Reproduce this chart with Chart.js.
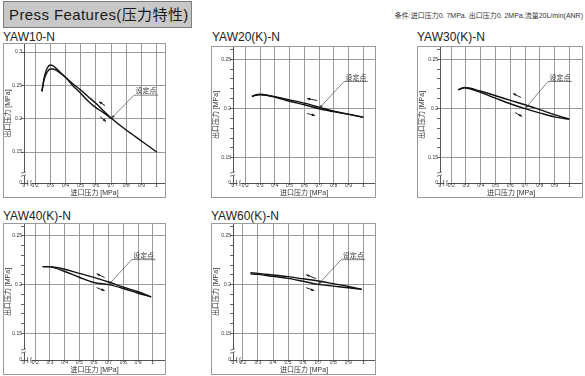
<!DOCTYPE html>
<html><head><meta charset="utf-8">
<script src="https://cdn.jsdelivr.net/npm/chart.js@4.4.0/dist/chart.umd.min.js"></script>
<style>
html,body{margin:0;padding:0;background:#fff;}
body{width:585px;height:376px;position:relative;overflow:hidden;font-family:"Liberation Sans","Noto Sans CJK SC",Arial,sans-serif;}
.hdr{position:absolute;left:3px;top:1px;width:189px;height:27px;box-sizing:border-box;background:#c8c8c8;border:1px solid #7c7c7c;font-size:15px;line-height:25px;padding-left:5px;color:#1a1a1a;letter-spacing:0.4px;white-space:nowrap;}
.cond{position:absolute;right:2px;top:11px;font-size:7px;line-height:9px;color:#333;white-space:nowrap;}
.ttl{position:absolute;font-size:12px;line-height:12px;color:#222;white-space:nowrap;}
.box{position:absolute;box-sizing:border-box;border:1px solid #9a9a9a;}
canvas{position:absolute;}
</style></head><body>
<div class="hdr">Press Features(压力特性)</div>
<div class="cond">条件:进口压力0. 7MPa. 出口压力0. 2MPa,流量20L/min(ANR)</div>
<script>
// ---------- data ----------
const panelNames = ['YAW10-N','YAW20(K)-N','YAW30(K)-N','YAW40(K)-N','YAW60(K)-N'];
const xTitle = '进口压力 [MPa]';
const yTitle = '出口压力 [MPa]';
const setLabel = '设定点';
const setPoint = [0.7, 0.2];
const zeroLabel = '0';

const xTickVals = [0.2,0.3,0.4,0.5,0.6,0.7,0.8,0.9,1.0];
const xTickLabels = ['0.2','0.3','0.4','0.5','0.6','0.7','0.8','0.9','1'];
const y1TickVals = [0.15,0.2,0.25,0.3];
const y1TickLabels = ['0.15','0.2','0.25','0.3'];
const yTickVals = [0.15,0.16,0.17,0.18,0.19,0.2,0.21,0.22,0.23,0.24,0.25,0.26];
const yTickLabels = ['0.15','','','','','0.2','','','','','0.25',''];

// YAW10-N
const p1UpX = [0.245,0.26,0.28,0.30,0.32,0.35,0.40,0.45,0.50,0.55,0.60,0.65,0.70,0.80,0.90,1.00];
const p1UpY = [0.241,0.262,0.276,0.2805,0.279,0.273,0.262,0.252,0.243,0.233,0.223,0.212,0.201,0.183,0.1665,0.150];
const p1DnX = [0.245,0.26,0.28,0.30,0.32,0.35,0.40,0.45,0.50,0.55,0.60,0.65,0.70];
const p1DnY = [0.241,0.259,0.270,0.2745,0.2745,0.271,0.262,0.249,0.238,0.226,0.2165,0.209,0.2005];
// YAW20(K)-N
const p2UpX = [0.245,0.27,0.30,0.35,0.40,0.50,0.60,0.70,0.80,0.90,1.00];
const p2UpY = [0.2122,0.2138,0.2145,0.2136,0.2120,0.2088,0.2054,0.2014,0.1972,0.1943,0.1912];
const p2DnX = [0.245,0.27,0.30,0.35,0.40,0.50,0.60,0.70,0.80,0.90,1.00];
const p2DnY = [0.2122,0.2135,0.2140,0.2132,0.2117,0.2074,0.2038,0.1998,0.1968,0.1940,0.1910];
// YAW30(K)-N
const p3UpX = [0.248,0.27,0.29,0.32,0.40,0.50,0.60,0.70,0.80,0.90,1.00];
const p3UpY = [0.2189,0.2205,0.2213,0.2208,0.2175,0.2130,0.2083,0.2038,0.1988,0.1937,0.1892];
const p3DnX = [0.248,0.27,0.29,0.32,0.40,0.50,0.60,0.70,0.80,0.90,1.00];
const p3DnY = [0.2189,0.2203,0.2210,0.2203,0.2163,0.2105,0.2048,0.1998,0.1955,0.1915,0.1892];
// YAW40(K)-N
const p4UpX = [0.25,0.30,0.40,0.50,0.60,0.70,0.80,0.90,0.99];
const p4UpY = [0.2185,0.2185,0.2158,0.2116,0.2075,0.2027,0.1975,0.1927,0.1875];
const p4DnX = [0.25,0.30,0.40,0.50,0.60,0.70,0.80,0.90,0.99];
const p4DnY = [0.2185,0.2183,0.2135,0.2076,0.2022,0.2000,0.1960,0.1912,0.1875];
// YAW60(K)-N
const p5UpX = [0.25,0.30,0.40,0.50,0.60,0.70,0.80,0.90,0.99];
const p5UpY = [0.2123,0.2116,0.2099,0.2082,0.2060,0.2038,0.2010,0.1981,0.1952];
const p5DnX = [0.25,0.30,0.40,0.50,0.60,0.70,0.80,0.90,0.99];
const p5DnY = [0.2112,0.2105,0.2085,0.2065,0.2035,0.2003,0.1985,0.1968,0.1952];

// ---------- layout ----------
const FONT = '"Liberation Sans","Noto Sans CJK SC",Arial,sans-serif';
const panels = [
  {name:panelNames[0], box:[3,43,166,198], plot:[24,183], title:[3,31], x:[0.127,1.055], y:[0.1035,0.312],
   yv:y1TickVals, yl:y1TickLabels, up:[p1UpX,p1UpY], dn:[p1DnX,p1DnY],
   note:[23,-23.5], aU:[-12,-17,-6,-13], aL:[-11,-2,-5,3]},
  {name:panelNames[1], box:[211,46,376,198], plot:[233,183], title:[212,31], x:[0.117,1.079], y:[0.1243,0.2625],
   yv:yTickVals, yl:yTickLabels, up:[p2UpX,p2UpY], dn:[p2DnX,p2DnY],
   note:[25,-27], aU:[-12,-10,-2,-8], aL:[-12,5,-4,7]},
  {name:panelNames[2], box:[417,46,583,198], plot:[440,183], title:[417,31], x:[0.124,1.086], y:[0.1243,0.2625],
   yv:yTickVals, yl:yTickLabels, up:[p3UpX,p3UpY], dn:[p3DnX,p3DnY],
   note:[23,-27], aU:[-12,-15,-4,-11], aL:[-10,4,-3,8]},
  {name:panelNames[3], box:[3,223,166,375], plot:[24,360], title:[3,210], x:[0.123,1.084], y:[0.1226,0.2623],
   yv:yTickVals, yl:yTickLabels, up:[p4UpX,p4UpY], dn:[p4DnX,p4DnY],
   note:[23,-25], aU:[-12,-11,-4,-7], aL:[-12,3,-4,6]},
  {name:panelNames[4], box:[211,223,376,375], plot:[233,360], title:[211,210], x:[0.134,1.078], y:[0.1226,0.2623],
   yv:yTickVals, yl:yTickLabels, up:[p5UpX,p5UpY], dn:[p5DnX,p5DnY],
   note:[23,-25], aU:[-12,-10,-2,-6], aL:[-12,3,-4,6]}
];

function arrow(ctx, x1, y1, x2, y2, headAtEnd) {
  ctx.beginPath(); ctx.moveTo(x1,y1); ctx.lineTo(x2,y2); ctx.stroke();
  const hx = headAtEnd ? x2 : x1, hy = headAtEnd ? y2 : y1;
  const bx = headAtEnd ? x1 : x2, by = headAtEnd ? y1 : y2;
  const a = Math.atan2(hy-by, hx-bx), L = 3.2, W = 1.3;
  ctx.beginPath();
  ctx.moveTo(hx, hy);
  ctx.lineTo(hx - L*Math.cos(a) + W*Math.sin(a), hy - L*Math.sin(a) - W*Math.cos(a));
  ctx.lineTo(hx - L*Math.cos(a) - W*Math.sin(a), hy - L*Math.sin(a) + W*Math.cos(a));
  ctx.closePath(); ctx.fill();
}

const notePlugin = {
  id: 'note',
  afterDraw(chart) {
    const p = chart.options.plugins.note;
    const {ctx, scales:{x, y}, chartArea:a} = chart;
    ctx.save();
    // axis break marks
    const ax = a.left, ay = a.bottom;
    const yb = ay - 9, xb = ax + 6;
    ctx.fillStyle = '#fff';
    ctx.fillRect(ax-1, yb-1.5, 2, 3);
    ctx.fillRect(xb-1.5, ay-1, 3, 2);
    ctx.strokeStyle = '#444'; ctx.lineWidth = 0.7;
    ctx.beginPath();
    ctx.moveTo(ax-3, yb-0.8); ctx.lineTo(ax+2, yb-2.2);
    ctx.moveTo(ax-3, yb+2.2); ctx.lineTo(ax+2, yb+0.8);
    ctx.moveTo(xb-2.2, ay+3); ctx.quadraticCurveTo(xb-3.2, ay, xb-2.2, ay-3);
    ctx.moveTo(xb+1.2, ay+3); ctx.quadraticCurveTo(xb+0.2, ay, xb+1.2, ay-3);
    ctx.stroke();
    // set point annotation
    const px = x.getPixelForValue(setPoint[0]), py = y.getPixelForValue(setPoint[1]);
    const lx = px + p.note[0], ly = py + p.note[1];
    ctx.strokeStyle = '#333'; ctx.fillStyle = '#333'; ctx.lineWidth = 0.6;
    ctx.beginPath(); ctx.moveTo(lx, ly); ctx.lineTo(lx + 24, ly); ctx.stroke();
    arrow(ctx, lx, ly, px + 0.5, py - 0.5, true);
    ctx.font = '7px ' + FONT; ctx.textBaseline = 'bottom'; ctx.textAlign = 'left';
    ctx.fillText(setLabel, lx + 1.5, ly - 0.3);
    // direction arrows
    ctx.strokeStyle = '#111'; ctx.fillStyle = '#111'; ctx.lineWidth = 0.9;
    const u = p.aU, l = p.aL;
    arrow(ctx, px+u[0], py+u[1], px+u[2], py+u[3], false);
    arrow(ctx, px+l[0], py+l[1], px+l[2], py+l[3], true);
    ctx.restore();
  }
};

panels.forEach(p => {
  const [L,T,R,B] = p.box;
  const t = document.createElement('div');
  t.className = 'ttl'; t.style.left = p.title[0] + 'px'; t.style.top = p.title[1] + 'px';
  t.textContent = p.name; document.body.appendChild(t);
  const d = document.createElement('div');
  d.className = 'box'; d.style.left = L+'px'; d.style.top = T+'px';
  d.style.width = (R-L)+'px'; d.style.height = (B-T)+'px';
  document.body.appendChild(d);
  const W = R-L-2, H = B-T-2;
  const c = document.createElement('canvas');
  c.width = W; c.height = H; c.style.left = (L+1)+'px'; c.style.top = (T+1)+'px';
  c.style.width = W+'px'; c.style.height = H+'px';
  document.body.appendChild(c);
  const yW = p.plot[0] - (L+1);
  const xH = H - (p.plot[1] - (T+1));
  const toPts = (xs, ys) => xs.map((v,i) => ({x:v, y:ys[i]}));
  const lineDs = pts => ({data:pts, borderColor:'#111', borderWidth:1.4, pointRadius:0,
    cubicInterpolationMode:'monotone', fill:false});
  const zero = s => { s.paddingLeft = 0; s.paddingRight = 0; s.paddingTop = 0; s.paddingBottom = 0; };
  new Chart(c, {
    type:'line',
    data:{datasets:[lineDs(toPts(p.up[0],p.up[1])), lineDs(toPts(p.dn[0],p.dn[1]))]},
    options:{
      responsive:false, animation:false, devicePixelRatio:1, events:[],
      layout:{padding:0, autoPadding:false},
      plugins:{legend:{display:false}, tooltip:{enabled:false}, note:p},
      scales:{
        x:{type:'linear', min:p.x[0], max:p.x[1],
          afterBuildTicks: s => { s.ticks = [s.min].concat(xTickVals).map(v => ({value:v})); },
          afterFit: s => { s.height = xH; zero(s); },
          ticks:{autoSkip:false, maxRotation:0, padding:-2, color:'#333', font:{size:5, family:FONT},
            callback:(v,i) => i === 0 ? zeroLabel : xTickLabels[i-1]},
          grid:{color: ctx => ctx.index === 0 ? 'rgba(0,0,0,0)' : '#8e8e8e', lineWidth:0.9,
            tickLength:2, tickColor:'#555'},
          border:{display:true, color:'#555', width:1},
          title:{display:true, text:xTitle, color:'#333', padding:0, font:{size:7, family:FONT}}
        },
        y:{type:'linear', min:p.y[0], max:p.y[1],
          afterBuildTicks: s => { s.ticks = [s.min].concat(p.yv).map(v => ({value:v})); },
          afterFit: s => { s.width = yW; zero(s); },
          ticks:{autoSkip:false, padding:-1, color:'#333', font:{size:5, family:FONT},
            callback:(v,i) => i === 0 ? zeroLabel : p.yl[i-1]},
          grid:{color: ctx => (ctx.index === 0 || p.yl[ctx.index-1] === '') ? 'rgba(0,0,0,0)' : '#8e8e8e',
            lineWidth:0.9, tickLength:3, tickColor:'#555'},
          border:{display:true, color:'#555', width:1},
          title:{display:true, text:yTitle, color:'#333', padding:0, font:{size:7, family:FONT}}
        }
      }
    },
    plugins:[notePlugin]
  });
});
</script>
</body></html>
